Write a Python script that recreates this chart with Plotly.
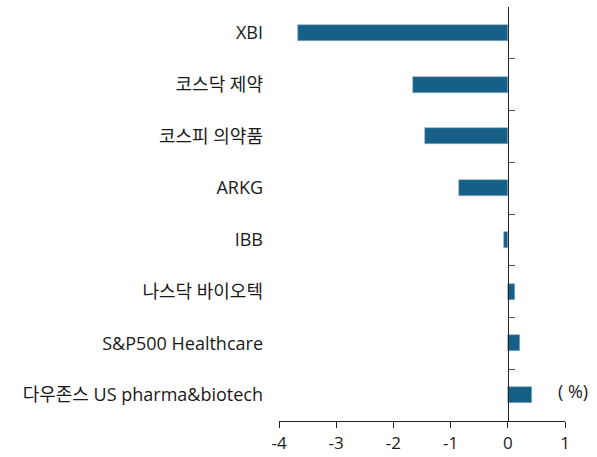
import plotly.graph_objects as go

categories = ["XBI", "코스닥 제약", "코스피 의약품", "ARKG", "IBB",
              "나스닥 바이오텍", "S&P500 Healthcare", "다우존스 US pharma&biotech"]
values = [-3.66, -1.65, -1.44, -0.85, -0.06, 0.12, 0.21, 0.43]
x_ticks = [-4, -3, -2, -1, 0, 1]

FONT = "Open Sans, Noto Sans CJK KR"
n = len(categories)
boundaries = [i - 0.5 for i in range(n + 1)]

fig = go.Figure()
fig.add_trace(go.Bar(
    x=values, y=categories, orientation="h", width=0.31,
    marker=dict(color="#166087", line=dict(color="#8fb0c6", width=0.6)),
    showlegend=False, hoverinfo="x+y",
))

fig.update_layout(
    width=597, height=457,
    margin=dict(l=279, r=32, t=7, b=36),
    plot_bgcolor="white", paper_bgcolor="white",
    font=dict(family=FONT, size=18, color="#1a1a1a"),
    bargap=0,
    xaxis=dict(
        range=[-4, 1], tickvals=x_ticks, ticktext=[str(v) for v in x_ticks],
        showgrid=False, zeroline=False, showline=True, linecolor="#222", linewidth=1,
        ticks="outside", ticklen=6, tickcolor="#222", tickwidth=1,
        tickfont=dict(size=17, family=FONT), fixedrange=True, automargin=False,
        ticklabelstandoff=1,
    ),
    yaxis=dict(
        type="category", range=[n - 0.5, -0.5],
        showgrid=False, zeroline=False, showline=False, ticks="",
        tickfont=dict(size=18, family=FONT), ticklabelstandoff=15, automargin=False,
    ),
    yaxis2=dict(
        overlaying="y", anchor="free", position=0.8, side="left",
        range=[n - 0.5, -0.5], tickvals=boundaries, showticklabels=False,
        showgrid=False, zeroline=False, showline=True, linecolor="#222", linewidth=1,
        ticks="inside", ticklen=6, tickcolor="#555", tickwidth=1, automargin=False,
    ),
)
# invisible trace so yaxis2 is drawn
fig.add_trace(go.Scatter(x=[0], y=[0], yaxis="y2", mode="markers",
                         marker=dict(opacity=0), showlegend=False, hoverinfo="skip"))

fig.add_annotation(
    text="( %)", xref="paper", yref="paper", x=0.968, y=0.072,
    xanchor="left", yanchor="middle", showarrow=False,
    font=dict(size=18, family=FONT, color="#1a1a1a"),
)

fig.write_html("out.html", config={"displayModeBar": False},
               post_script="document.body.style.margin='0';")
